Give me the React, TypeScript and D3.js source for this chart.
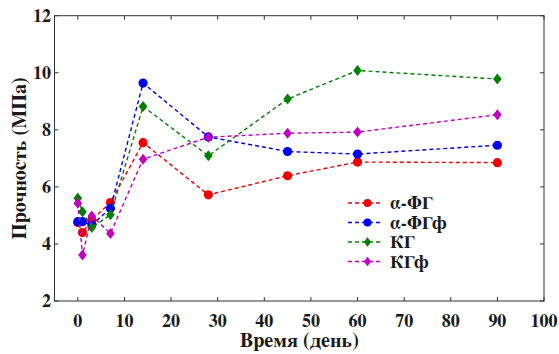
import React from "react";
import * as d3 from "d3";

const days = [0, 1, 3, 7, 14, 28, 45, 60, 90];
const seriesNames = ["α-ФГ", "α-ФГф", "КГ", "КГф"];
const aFG = [4.75, 4.4, 4.84, 5.45, 7.55, 5.72, 6.39, 6.87, 6.85];
const aFGf = [4.78, 4.78, 4.67, 5.25, 9.64, 7.75, 7.24, 7.15, 7.46];
const KG = [5.6, 5.13, 4.58, 5.02, 8.82, 7.09, 9.08, 10.08, 9.78];
const KGf = [5.43, 3.61, 4.98, 4.37, 6.97, 7.74, 7.88, 7.92, 8.53];
const colors = ["#f00000", "#0000ee", "#008000", "#bf00bf"];
const markers = ["circle", "circle", "diamond", "diamond"];
const xTicks = [0, 10, 20, 30, 40, 50, 60, 70, 80, 90, 100];
const yTicks = [2, 4, 6, 8, 10, 12];

const W = 559, H = 354;
const left = 54.5, right = 544, top = 15.7, bottom = 301;
const font = "FreeSerif, 'Liberation Serif', serif";

function Marker({ type, x, y, color, s = 1 }: { type: string; x: number; y: number; color: string; s?: number }) {
  if (type === "circle") return <circle cx={x} cy={y} r={4.6 * s} fill={color} />;
  const p = `M${x},${y - 5.5 * s}L${x + 4.3 * s},${y}L${x},${y + 5.5 * s}L${x - 4.3 * s},${y}Z`;
  return <path d={p} fill={color} />;
}

export default function App() {
  const x = d3.scaleLinear().domain([-5, 100]).range([left, right]);
  const y = d3.scaleLinear().domain([2, 12]).range([bottom, top]);
  const data = [aFG, aFGf, KG, KGf];
  const line = d3.line<number>().x((_, i) => x(days[i])).y((d) => y(d));
  const legY = [203, 222.5, 242, 261.5];
  const txt = { fontFamily: font, fontWeight: "bold" as const };
  return (
    <svg width={W} height={H} style={{ position: "absolute", left: 0, top: 0, background: "#fff" }}>
      <rect x={0} y={0} width={W} height={H} fill="#fff" />
      {data.map((s, k) => (
        <g key={k}>
          <path d={line(s) || ""} fill="none" stroke={colors[k]} strokeWidth={1.4} strokeDasharray="4,3" />
          {s.map((v, i) => (
            <Marker key={i} type={markers[k]} x={x(days[i])} y={y(v)} color={colors[k]} />
          ))}
        </g>
      ))}
      <rect x={left} y={top} width={right - left} height={bottom - top} fill="none" stroke="#333" strokeWidth={1} />
      {xTicks.map((t) => (
        <g key={t}>
          <line x1={x(t)} x2={x(t)} y1={bottom} y2={bottom - 4} stroke="#333" />
          <line x1={x(t)} x2={x(t)} y1={top} y2={top + 4} stroke="#333" />
          <text x={x(t)} y={327} textAnchor="middle" style={{ ...txt, fontSize: 18 }} fill="#1a1a1a">{t}</text>
        </g>
      ))}
      {yTicks.map((t) => (
        <g key={t}>
          <line x1={left} x2={left + 4} y1={y(t)} y2={y(t)} stroke="#333" />
          <line x1={right} x2={right - 4} y1={y(t)} y2={y(t)} stroke="#333" />
          <text x={51} y={y(t) + 6} textAnchor="end" style={{ ...txt, fontSize: 18 }} fill="#1a1a1a">{t}</text>
        </g>
      ))}
      <text x={(left + right) / 2} y={347} textAnchor="middle" style={{ ...txt, fontSize: 20 }} fill="#1a1a1a">Время (день)</text>
      <text transform={`translate(26,${(top + bottom) / 2}) rotate(-90)`} textAnchor="middle" style={{ ...txt, fontSize: 20 }} fill="#1a1a1a">Прочность (МПа)</text>
      {seriesNames.map((n, k) => (
        <g key={n}>
          <line x1={348} x2={382} y1={legY[k]} y2={legY[k]} stroke={colors[k]} strokeWidth={1.4} strokeDasharray="4,3" />
          <Marker type={markers[k]} x={367.5} y={legY[k]} color={colors[k]} s={0.85} />
          <text x={390} y={legY[k] + 6} style={{ ...txt, fontSize: 18 }} fill="#1a1a1a">{n}</text>
        </g>
      ))}
    </svg>
  );
}
